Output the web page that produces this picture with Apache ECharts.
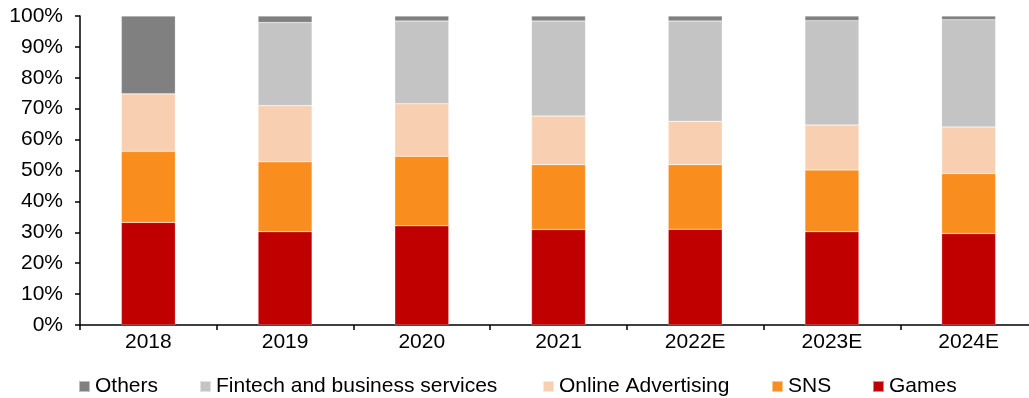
<!DOCTYPE html>
<html>
<head>
<meta charset="utf-8">
<script src="https://cdn.jsdelivr.net/npm/echarts@6/dist/echarts.min.js"></script>
<style>
  html, body { margin: 0; padding: 0; background: #fff; }
  #chart { width: 1029px; height: 398px; }
</style>
</head>
<body>
<div id="chart"></div>
<script>
// Revenue mix by segment, share of total (%)
const years = ['2018', '2019', '2020', '2021', '2022E', '2023E', '2024E'];
const games = [33.2, 30.2, 32.1, 30.9, 31.0, 30.2, 29.6];
const sns = [23.0, 22.6, 22.5, 21.0, 20.9, 20.0, 19.4];
const onlineAdvertising = [18.6, 18.2, 17.0, 15.7, 14.0, 14.5, 15.1];
const fintech = [0, 26.9, 26.8, 30.8, 32.5, 33.8, 34.7];
const others = [25.2, 2.1, 1.6, 1.6, 1.6, 1.5, 1.2];
const yTicks = [0, 10, 20, 30, 40, 50, 60, 70, 80, 90, 100];
const legendOrder = ['Others', 'Fintech and business services', 'Online Advertising', 'SNS', 'Games'];

const FONT = '"Liberation Sans", Arial, sans-serif';
const FONT_SIZE = 21;

const stackSeries = [
  { name: 'Games', data: games, color: '#C00000' },
  { name: 'SNS', data: sns, color: '#F98E1F' },
  { name: 'Online Advertising', data: onlineAdvertising, color: '#F8D0B1' },
  { name: 'Fintech and business services', data: fintech, color: '#C4C4C4' },
  { name: 'Others', data: others, color: '#808080' }
];

// one legend block per entry so each sits at its own x
const legendLeft = [73, 194, 537, 766, 867];

const chart = echarts.init(document.getElementById('chart'), null, { renderer: 'canvas' });

chart.setOption({
  animation: false,
  textStyle: { fontFamily: FONT },
  grid: {
    left: 80, top: 16, width: 957, height: 309,
    containLabel: false,
    outerBoundsMode: 'none'
  },
  legend: legendOrder.map((name, i) => ({
    left: legendLeft[i], top: 371,
    itemWidth: 11, itemHeight: 11,
    icon: 'rect',
    textStyle: { fontFamily: FONT, fontSize: FONT_SIZE, color: '#000' },
    data: [name]
  })),
  xAxis: {
    type: 'category',
    data: years,
    axisLine: { lineStyle: { color: '#000', width: 1.5 } },
    axisTick: { show: true, length: 5, inside: false, lineStyle: { color: '#000', width: 1.5 } },
    axisLabel: { color: '#000', fontSize: FONT_SIZE, fontFamily: FONT, margin: 7 },
    splitLine: { show: false }
  },
  yAxis: {
    type: 'value',
    min: yTicks[0], max: yTicks[yTicks.length - 1], interval: 10,
    axisLine: { show: true, lineStyle: { color: '#000', width: 1.5 } },
    axisTick: { show: true, length: 5, lineStyle: { color: '#000', width: 1.5 } },
    axisLabel: { color: '#000', fontSize: FONT_SIZE, fontFamily: FONT, margin: 17, formatter: v => v + '%' },
    splitLine: { show: false }
  },
  series: stackSeries.map(s => ({
    name: s.name,
    type: 'bar',
    stack: 'total',
    barWidth: 54,
    data: s.data,
    itemStyle: { color: s.color, borderColor: 'rgba(255,255,255,0.5)', borderWidth: 0.5 }
  }))
});
</script>
</body>
</html>
